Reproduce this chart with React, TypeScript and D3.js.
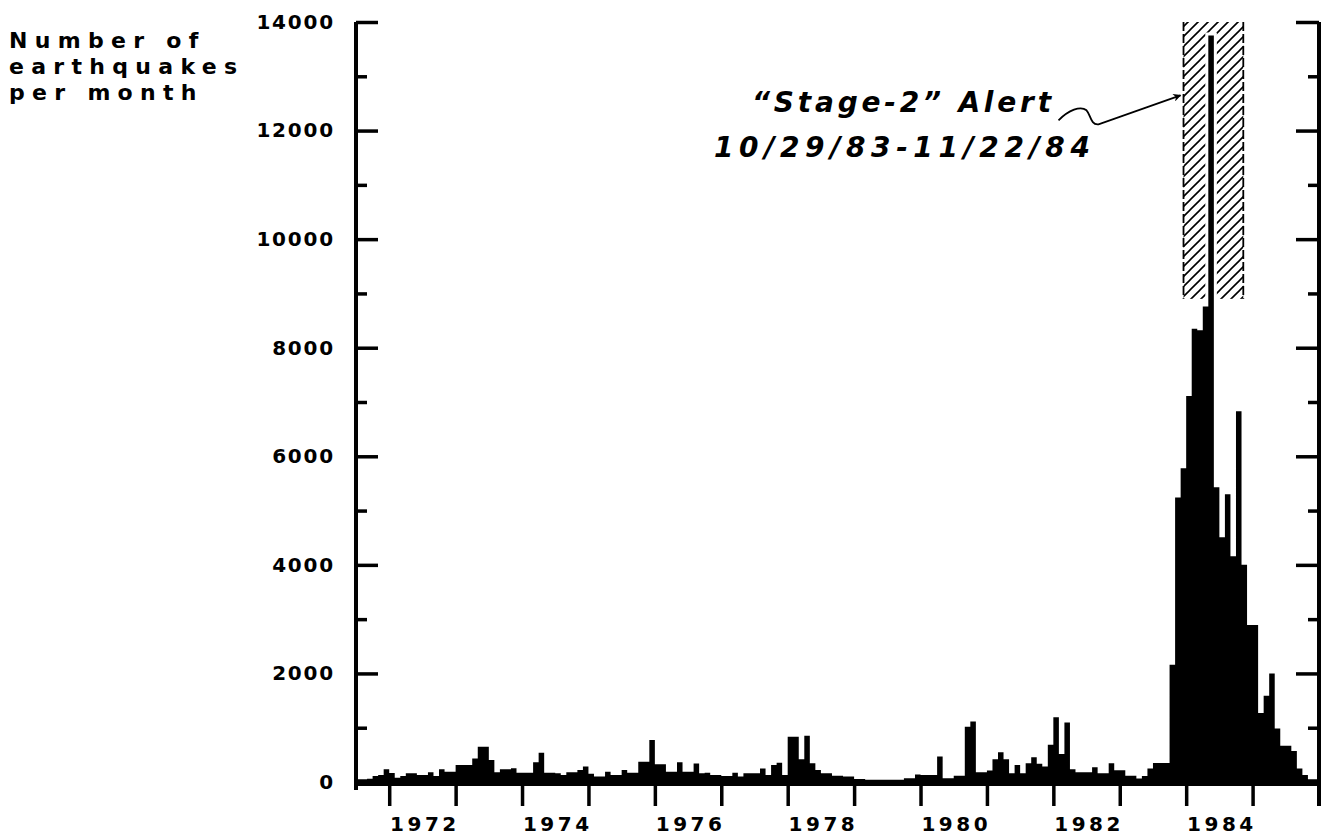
import React from 'react';
import * as d3 from 'd3';

// monthly earthquake counts (1971 starts in July)
const counts1971 = [50, 50, 60, 110, 130, 235];
const counts1972 = [165, 80, 110, 160, 160, 130, 130, 180, 110, 235, 190, 190];
const counts1973 = [315, 315, 315, 435, 650, 650, 405, 180, 235, 235, 255, 170];
const counts1974 = [170, 170, 365, 540, 170, 170, 160, 130, 180, 180, 220, 285];
const counts1975 = [150, 100, 100, 190, 130, 130, 220, 170, 170, 375, 375, 775];
const counts1976 = [325, 325, 190, 190, 362, 190, 190, 340, 160, 170, 130, 130];
const counts1977 = [110, 110, 170, 100, 160, 160, 160, 250, 130, 315, 355, 130];
const counts1978 = [835, 835, 420, 850, 345, 220, 160, 160, 115, 115, 100, 100];
const counts1979 = [55, 55, 40, 40, 40, 40, 40, 40, 40, 70, 70, 140];
const counts1980 = [130, 130, 130, 470, 70, 70, 115, 115, 1020, 1115, 180, 180];
const counts1981 = [210, 420, 550, 420, 160, 315, 160, 345, 455, 338, 285, 685];
const counts1982 = [1195, 515, 1095, 235, 180, 180, 180, 270, 160, 160, 345, 215];
const counts1983 = [215, 115, 115, 65, 110, 250, 350, 350, 350, 2160, 5240, 5780];
const counts1984 = [7110, 8350, 8320, 8760, 13750, 5430, 4510, 5300, 4160, 6830, 4000, 2890];
const counts1985 = [2890, 1270, 1590, 2000, 985, 670, 670, 570, 250, 130, 50, 50];

const tickYears = [1972, 1973, 1974, 1975, 1976, 1977, 1978, 1979, 1980, 1981, 1982, 1983, 1984, 1985];
const labelYears = [1972, 1974, 1976, 1978, 1980, 1982, 1984];
const majorCounts = [0, 2000, 4000, 6000, 8000, 10000, 12000, 14000];
const minorCounts = [1000, 3000, 5000, 7000, 9000, 11000, 13000];

const titleLines = ['Number of', 'earthquakes', 'per month'];
const alertLines = ['\u201CStage-2\u201D Alert', '10/29/83-11/22/84'];
const alertSpan = [1983.96, 1984.86];
const alertCounts = [8900, 14000];

const FONT = '"DejaVu Sans", "Liberation Sans", sans-serif';

export default class App extends React.Component {
    svgRef = React.createRef<SVGSVGElement>();

    componentDidMount = () => {
        this.drawChart();
    }

    getPoints = () => {
        const points: { t: number; v: number }[] = [];
        counts1971.forEach((v, i) => points.push({ t: 1971.5 + i / 12, v }));
        const years = [counts1972, counts1973, counts1974, counts1975, counts1976, counts1977,
            counts1978, counts1979, counts1980, counts1981, counts1982, counts1983, counts1984, counts1985];
        years.forEach((arr, yi) => {
            arr.forEach((v, i) => points.push({ t: 1972 + yi + i / 12, v }));
        });
        // closing point so the last month gets its width
        points.push({ t: 1986, v: counts1985[counts1985.length - 1] });
        return points;
    }

    drawChart = () => {
        const svg = d3.select(this.svgRef.current);
        svg.selectAll('*').remove();

        const x = d3.scaleLinear().domain([1971.5, 1986]).range([356, 1319]);
        const y = d3.scaleLinear().domain([0, 14000]).range([782, 22]);

        const defs = svg.append('defs');
        const pattern = defs.append('pattern')
            .attr('id', 'hatch')
            .attr('patternUnits', 'userSpaceOnUse')
            .attr('width', 10)
            .attr('height', 10);
        pattern.append('path')
            .attr('d', 'M0,10 L10,0 M-2,2 L2,-2 M8,12 L12,8')
            .attr('stroke', '#000')
            .attr('stroke-width', 1.6);

        defs.append('marker')
            .attr('id', 'arrowhead')
            .attr('viewBox', '0 0 10 10')
            .attr('refX', 9)
            .attr('refY', 5)
            .attr('markerWidth', 11)
            .attr('markerHeight', 8)
            .attr('markerUnits', 'userSpaceOnUse')
            .attr('orient', 'auto')
            .append('path')
            .attr('d', 'M0,0 L10,5 L0,10 L3,5 Z')
            .attr('fill', '#000');

        // hatched alert period
        const hx0 = x(alertSpan[0]);
        const hx1 = x(alertSpan[1]);
        const hy0 = y(alertCounts[1]);
        const hy1 = y(alertCounts[0]);
        svg.append('rect')
            .attr('x', hx0)
            .attr('y', hy0)
            .attr('width', hx1 - hx0)
            .attr('height', hy1 - hy0)
            .attr('fill', 'url(#hatch)');
        [hx0, hx1].forEach(hx => {
            svg.append('line')
                .attr('x1', hx).attr('x2', hx)
                .attr('y1', hy0).attr('y2', hy1)
                .attr('stroke', '#000')
                .attr('stroke-width', 1.8)
                .attr('stroke-dasharray', '9 3');
        });

        // monthly histogram as a filled step area
        const area = d3.area<{ t: number; v: number }>()
            .x(d => x(d.t))
            .y0(y(0))
            .y1(d => y(d.v))
            .curve(d3.curveStepAfter);

        svg.append('path')
            .datum(this.getPoints())
            .attr('d', area)
            .attr('fill', '#000')
            .attr('stroke', '#fff')
            .attr('stroke-width', 6)
            .style('paint-order', 'stroke');

        // axes
        const axisStyle = (g: any) => {
            g.select('.domain').remove();
            g.selectAll('.tick line').attr('stroke', '#000').attr('stroke-width', 3.5);
            g.selectAll('.tick text')
                .attr('fill', '#000')
                .attr('font-family', FONT)
                .attr('font-weight', 'bold')
                .attr('font-size', 20);
        };

        svg.append('g')
            .attr('transform', `translate(${x.range()[0]},0)`)
            .call(d3.axisLeft(y).tickValues(majorCounts).tickSizeInner(-22).tickSizeOuter(0).tickPadding(21).tickFormat(d3.format('d')))
            .call(axisStyle)
            .call(g => g.selectAll('.tick text').attr('letter-spacing', 1.8));

        svg.append('g')
            .attr('transform', `translate(${x.range()[0]},0)`)
            .call(d3.axisLeft(y).tickValues(minorCounts).tickSizeInner(-11).tickSizeOuter(0).tickFormat(() => ''))
            .call(axisStyle);

        svg.append('g')
            .attr('transform', `translate(${x.range()[1]},0)`)
            .call(d3.axisRight(y).tickValues(majorCounts).tickSizeInner(-23).tickSizeOuter(0).tickFormat(() => ''))
            .call(axisStyle);

        svg.append('g')
            .attr('transform', `translate(${x.range()[1]},0)`)
            .call(d3.axisRight(y).tickValues(minorCounts).tickSizeInner(-11).tickSizeOuter(0).tickFormat(() => ''))
            .call(axisStyle);

        svg.append('g')
            .attr('transform', `translate(0,${y(0) + 2})`)
            .call(d3.axisBottom(x).tickValues(tickYears).tickSizeInner(22).tickSizeOuter(0).tickFormat(() => ''))
            .call(axisStyle);

        svg.append('g')
            .attr('transform', `translate(0,${y(0) + 2})`)
            .call(d3.axisBottom(x).tickValues(labelYears.map(yr => yr + 0.5)).tickSize(0).tickPadding(33).tickFormat(d => String(Math.floor(+d))))
            .call(axisStyle)
            .call(g => g.selectAll('.tick text').attr('letter-spacing', 3.5).attr('dx', 2));

        // frame lines
        svg.append('line')
            .attr('x1', x.range()[0]).attr('x2', x.range()[0])
            .attr('y1', y(14000)).attr('y2', y(0) + 8)
            .attr('stroke', '#000').attr('stroke-width', 4);
        svg.append('line')
            .attr('x1', x.range()[1]).attr('x2', x.range()[1])
            .attr('y1', y(14000)).attr('y2', y(0) + 24)
            .attr('stroke', '#000').attr('stroke-width', 4);
        svg.append('line')
            .attr('x1', x.range()[0]).attr('x2', x.range()[1])
            .attr('y1', y(0) + 2).attr('y2', y(0) + 2)
            .attr('stroke', '#000').attr('stroke-width', 4);

        // y axis title, one text per line
        svg.append('g')
            .selectAll('text')
            .data(titleLines)
            .join('text')
            .attr('font-family', FONT)
            .attr('font-weight', 'bold')
            .attr('font-size', 22)
            .attr('letter-spacing', 7.3)
            .attr('x', 9)
            .attr('y', (d, i) => 48 + i * 26)
            .text(d => d);

        // alert annotation
        svg.append('g')
            .selectAll('text')
            .data(alertLines)
            .join('text')
            .attr('font-family', FONT)
            .attr('font-weight', 'bold')
            .attr('font-style', 'italic')
            .attr('font-size', 28)
            .attr('x', (d, i) => i === 0 ? 752 : 714)
            .attr('y', (d, i) => 112 + i * 45)
            .attr('letter-spacing', (d, i) => i === 0 ? 3.8 : 5.6)
            .text(d => d);

        const tx = hx0 - 3;
        const ty = y(12650);
        svg.append('path')
            .attr('d', `M${tx - 122},${ty + 25} C${tx - 112},${ty + 15} ${tx - 100},${ty + 10} ${tx - 94},${ty + 15}` +
                ` C${tx - 90},${ty + 19} ${tx - 90},${ty + 30} ${tx - 82},${ty + 29} L${tx},${ty}`)
            .attr('fill', 'none')
            .attr('stroke', '#000')
            .attr('stroke-width', 1.8)
            .attr('marker-end', 'url(#arrowhead)');
    }

    render() {
        return (
            <svg ref={this.svgRef} width={1328} height={838}
                style={{ position: 'absolute', left: 0, top: 0, background: '#fff' }} />
        );
    }
}
